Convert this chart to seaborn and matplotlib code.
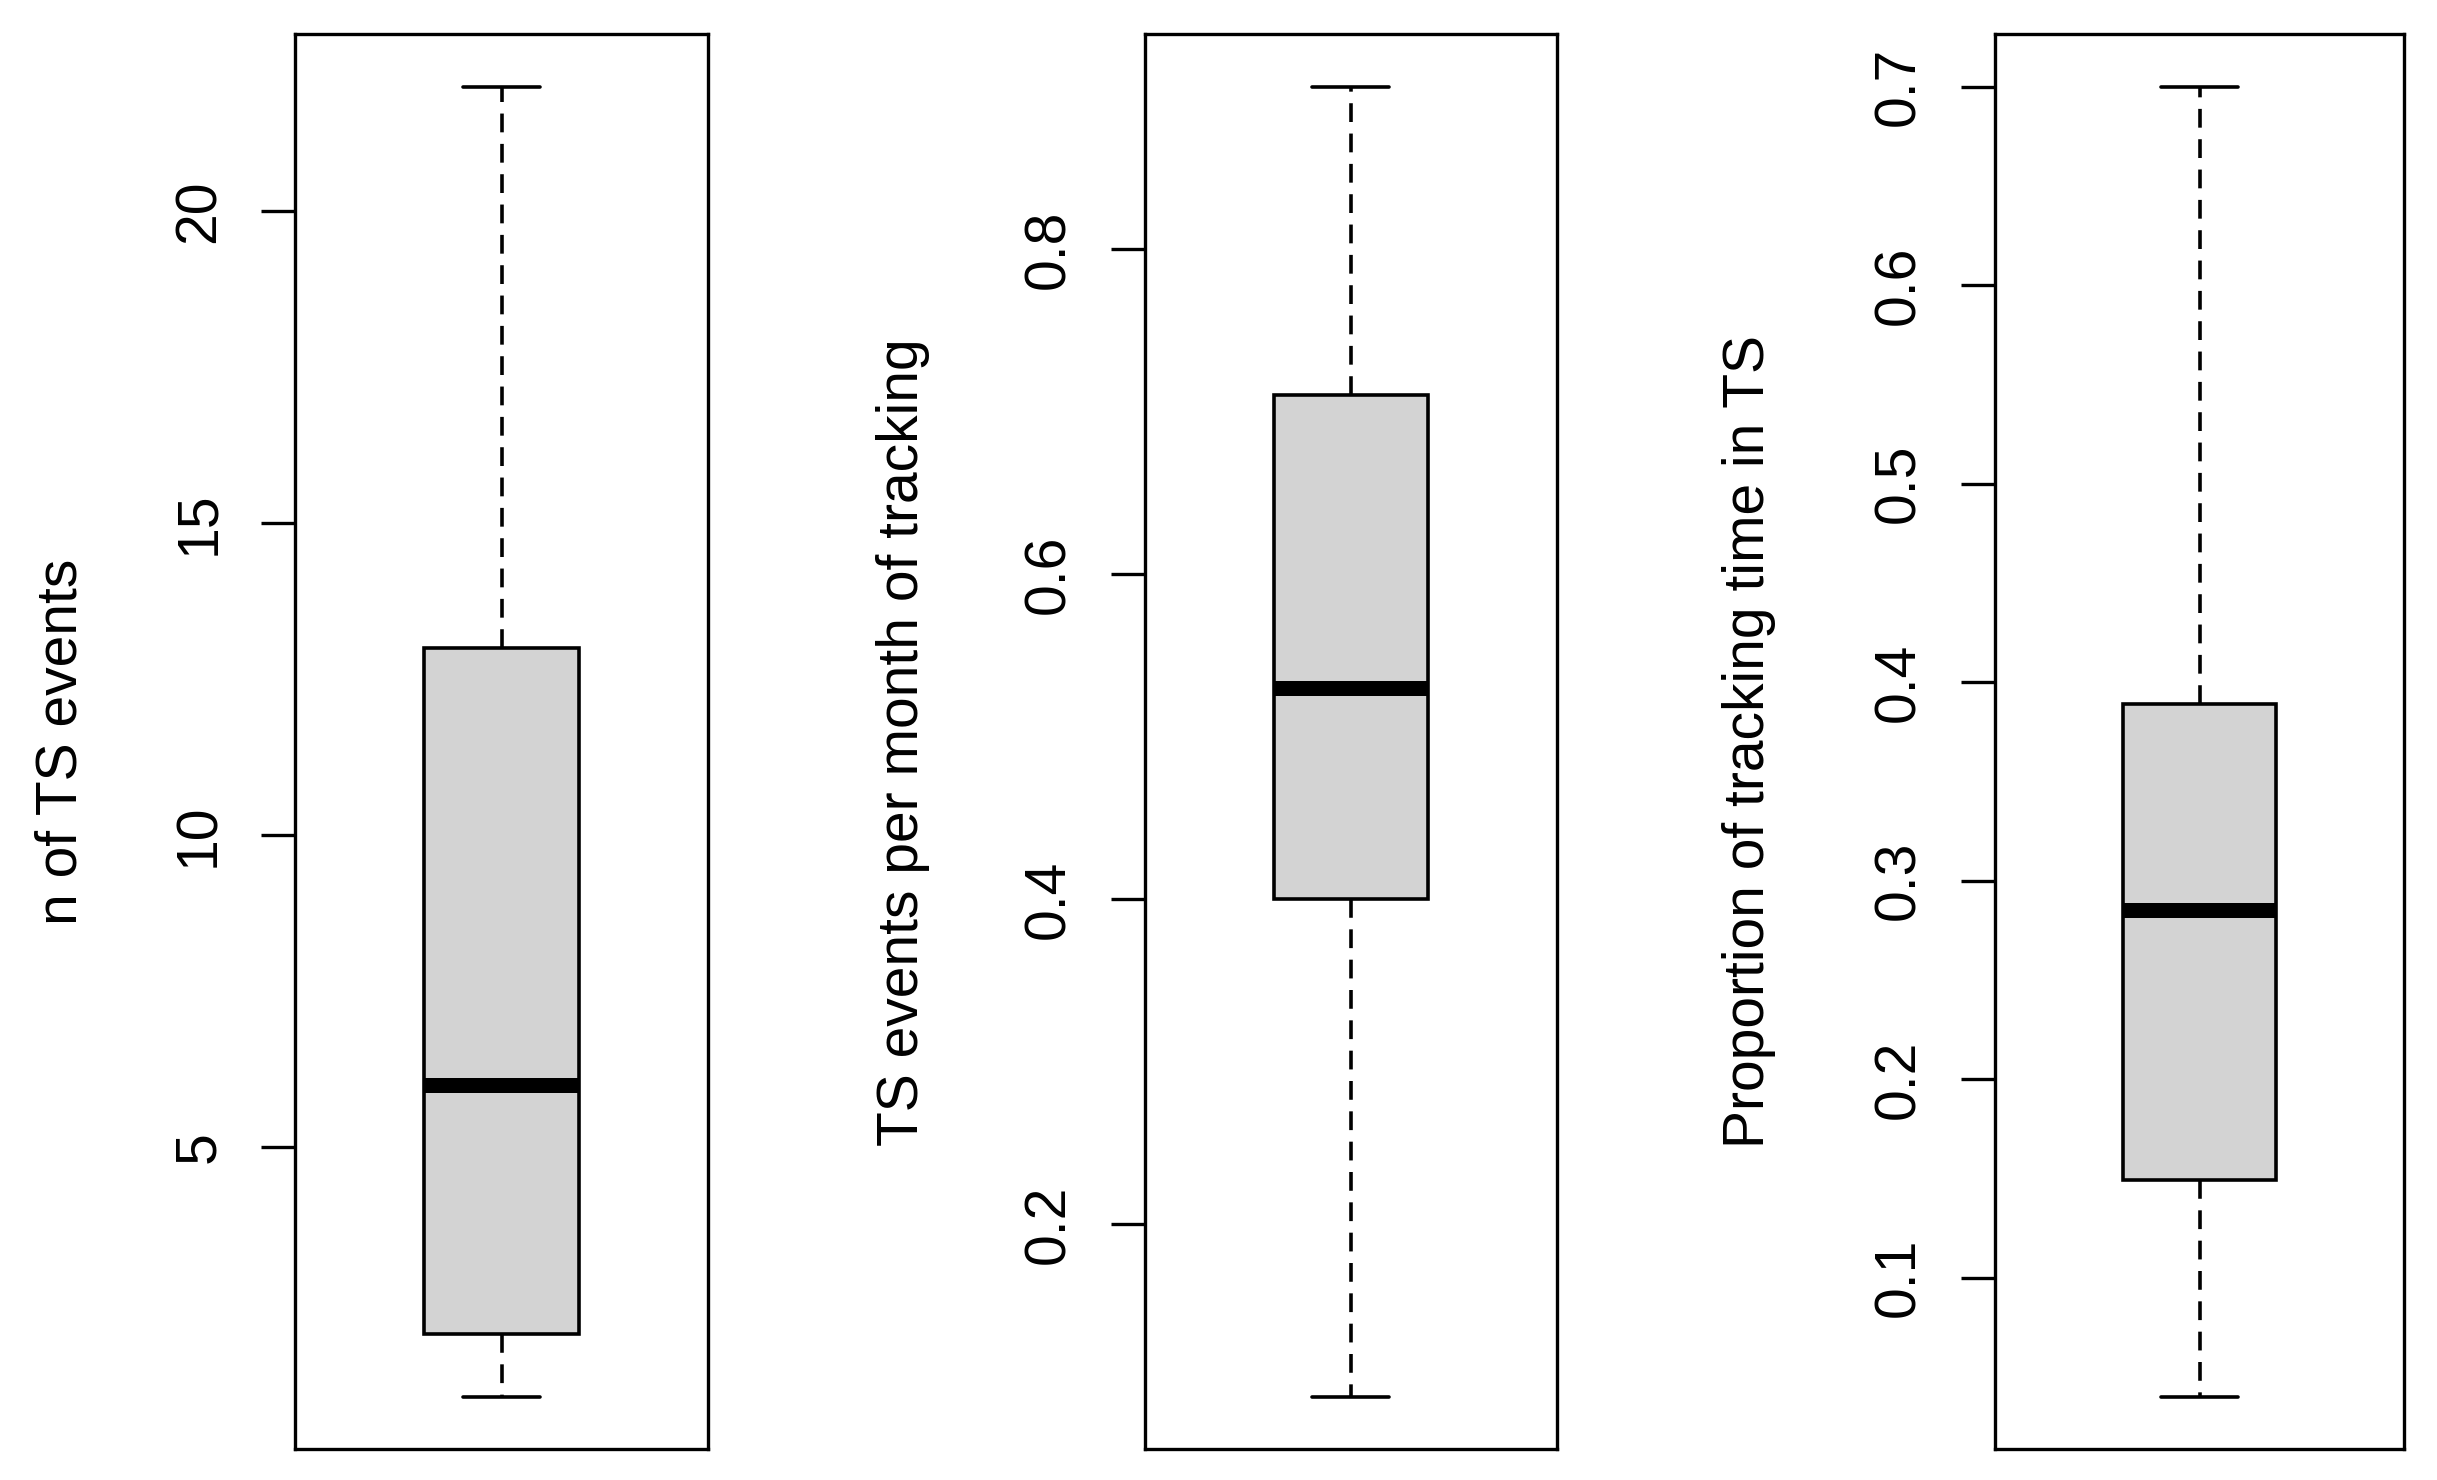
import numpy as np
import pandas as pd
import matplotlib
matplotlib.use("Agg")
import matplotlib.pyplot as plt
import seaborn as sns

# five-number summaries (min, q1, median, q3, max)
n_events = [1, 2, 6, 13, 22]
rate_per_month = [0.094, 0.40, 0.53, 0.71, 0.90]
prop_time = [0.04, 0.149, 0.285, 0.389, 0.70]

labels = ["n of TS events",
          "TS events per month of tracking",
          "Proportion of tracking time in TS"]
ticks = [[5, 10, 15, 20],
         [0.2, 0.4, 0.6, 0.8],
         [0.1, 0.2, 0.3, 0.4, 0.5, 0.6, 0.7]]
tick_labels = [["5", "10", "15", "20"],
               ["0.2", "0.4", "0.6", "0.8"],
               ["0.1", "0.2", "0.3", "0.4", "0.5", "0.6", "0.7"]]

sns.set_style("white")
plt.rcParams['font.family'] = ['Liberation Sans', 'DejaVu Sans']
plt.rcParams['text.color'] = 'black'
plt.rcParams['axes.labelcolor'] = 'black'
plt.rcParams['ytick.color'] = 'black'
plt.rcParams['ytick.labelcolor'] = 'black'

fig = plt.figure(figsize=(24.37, 14.8), dpi=100)
lefts = [0.1211, 0.4698, 0.8186]
widths = [0.1695, 0.1690, 0.1680]
label_x = [-0.566, -0.587, -0.60]

for i, vals in enumerate([n_events, rate_per_month, prop_time]):
    ax = fig.add_axes([lefts[i], 0.0209, widths[i], 0.956])
    sns.boxplot(y=vals, ax=ax, width=0.375, color="lightgray", saturation=1,
                linecolor="black", linewidth=2.6, whis=(0, 100),
                medianprops={"linewidth": 10.8},
                whiskerprops={"linestyle": (0, (5.2, 3.2))})
    # R-style 4% padding around the data range
    lo, hi = min(vals), max(vals)
    r = hi - lo
    ax.set_ylim(lo - 0.04 * r, hi + 0.04 * r)
    ax.set_xlim(-0.5, 0.5)
    ax.set_xticks([])
    ax.set_yticks(ticks[i])
    ax.set_yticklabels(tick_labels[i], rotation=90, va="center")
    ax.tick_params(axis="y", left=True, length=24.5, width=2.4, pad=25,
                   labelsize=41, color="black", labelcolor="black")
    for s in ax.spines.values():
        s.set_linewidth(2.4)
        s.set_color("black")
    ax.set_ylabel(labels[i], fontsize=41, color="black")
    ax.yaxis.set_label_coords(label_x[i], 0.5)
    ax.yaxis.label.set_va("center")

fig.savefig("out.png", dpi=100)
